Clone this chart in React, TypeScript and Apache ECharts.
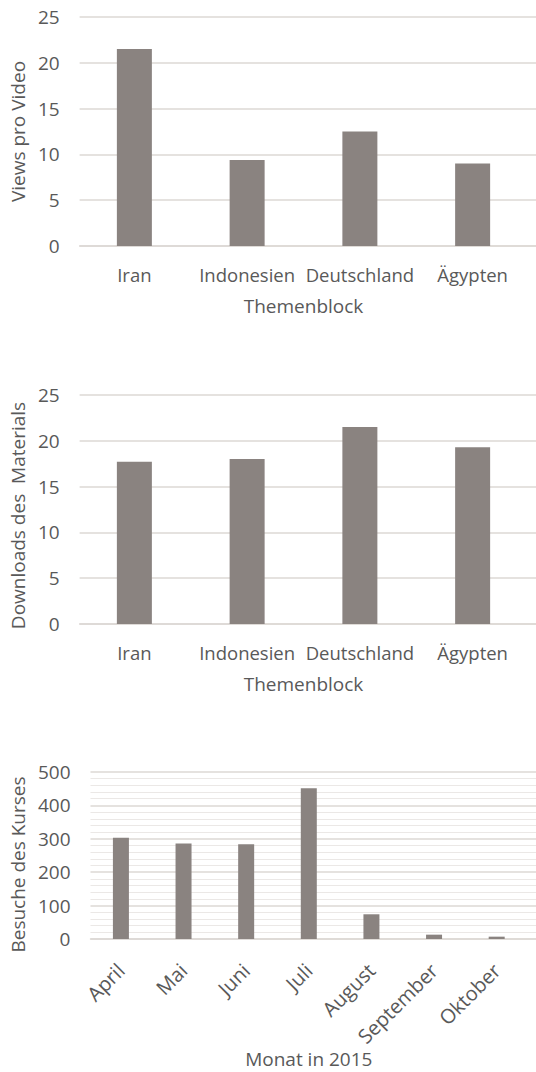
import React, { useEffect, useRef } from "react";
import * as echarts from "echarts";

const themen = ["Iran", "Indonesien", "Deutschland", "Ägypten"];
const viewsProVideo = [21.5, 9.4, 12.5, 9.0];
const downloadsMaterial = [17.7, 18.0, 21.5, 19.3];
const monate = ["April", "Mai", "Juni", "Juli", "August", "September", "Oktober"];
const besuche = [303, 286, 284, 451, 74, 13, 7];

const FONT = "'Open Sans', sans-serif";
const TEXT = "#595959";
const GRID = "#dcd8d5";
const BAR = "#8a8380";

export default function App() {
  const ref = useRef<HTMLDivElement>(null);
  useEffect(() => {
    if (!ref.current) return;
    const chart = echarts.init(ref.current, undefined, { renderer: "svg" });

    // full-width background axes (gridlines + baseline)
    const bgX = (gridIndex: number, data: string[]) => ({
      type: "category",
      gridIndex,
      data,
      axisLine: { show: true, lineStyle: { color: GRID, width: 1.5 } },
      axisTick: { show: false },
      axisLabel: { show: false },
    });
    // label axes over the narrower plot
    const catAxis = (gridIndex: number, data: string[], name: string, extra: any = {}) => ({
      type: "category",
      gridIndex,
      data,
      name,
      nameLocation: "middle",
      nameGap: 50,
      nameTextStyle: { color: TEXT, fontSize: 19, fontFamily: FONT },
      axisLine: { show: false },
      axisTick: { show: false },
      axisLabel: { color: TEXT, fontSize: 18.5, fontFamily: FONT, interval: 0, margin: 19 },
      ...extra,
    });
    const valAxis = (gridIndex: number, name: string, max: number, interval: number, extra: any = {}) => ({
      type: "value",
      gridIndex,
      min: 0,
      max,
      interval,
      name,
      nameLocation: "middle",
      nameGap: 50,
      nameTextStyle: { color: TEXT, fontSize: 19, fontFamily: FONT },
      axisLine: { show: false },
      axisTick: { show: false },
      axisLabel: { color: TEXT, fontSize: 19, fontFamily: FONT, margin: 20 },
      splitLine: { show: true, lineStyle: { color: GRID, width: 1.5 } },
      ...extra,
    });
    const hiddenVal = (gridIndex: number, max: number) => ({
      type: "value",
      gridIndex,
      min: 0,
      max,
      show: false,
      splitLine: { show: false },
    });

    chart.setOption({
      animation: false,
      grid: [
        { left: 78, right: 0, top: 17, height: 229 },
        { left: 78, right: 0, top: 395, height: 229 },
        { left: 89.6, right: 0, top: 772, height: 167 },
        { left: 78, right: 7, top: 17, height: 229 },
        { left: 78, right: 7, top: 395, height: 229 },
        { left: 89.6, right: 8, top: 772, height: 167 },
      ],
      xAxis: [
        bgX(0, themen),
        bgX(1, themen),
        bgX(2, monate),
        catAxis(3, themen, "Themenblock"),
        catAxis(4, themen, "Themenblock"),
        catAxis(5, monate, "Monat in 2015", {
          nameGap: 110,
          nameTextStyle: { color: TEXT, fontSize: 19, fontFamily: FONT, lineHeight: 19 },
          axisLabel: {
            color: TEXT,
            fontSize: 20,
            fontFamily: FONT,
            interval: 0,
            margin: 28,
            rotate: 45,
          },
        }),
      ],
      yAxis: [
        valAxis(0, "Views pro Video", 25, 5),
        valAxis(1, "Downloads des  Materials", 25, 5, {
          nameTextStyle: { color: TEXT, fontSize: 19, fontFamily: FONT, padding: [0, 12, 0, 0] },
        }),
        valAxis(2, "Besuche des Kurses", 500, 100, {
          nameGap: 61,
          nameTextStyle: { color: TEXT, fontSize: 19, fontFamily: FONT, padding: [0, 18, 0, 0] },
          minorTick: { show: false, splitNumber: 5 },
          minorSplitLine: { show: true, lineStyle: { color: "#ebe8e6", width: 1 } },
        }),
        hiddenVal(3, 25),
        hiddenVal(4, 25),
        hiddenVal(5, 500),
      ],
      series: [
        { type: "bar", xAxisIndex: 3, yAxisIndex: 3, data: viewsProVideo, barWidth: 35, itemStyle: { color: BAR } },
        { type: "bar", xAxisIndex: 4, yAxisIndex: 4, data: downloadsMaterial, barWidth: 35, itemStyle: { color: BAR } },
        { type: "bar", xAxisIndex: 5, yAxisIndex: 5, data: besuche, barWidth: 16, itemStyle: { color: BAR } },
      ],
    });
    return () => chart.dispose();
  }, []);
  return (
    <div
      ref={ref}
      style={{ position: "fixed", left: 0, top: 0, width: 536, height: 1072, background: "#fff" }}
    />
  );
}
